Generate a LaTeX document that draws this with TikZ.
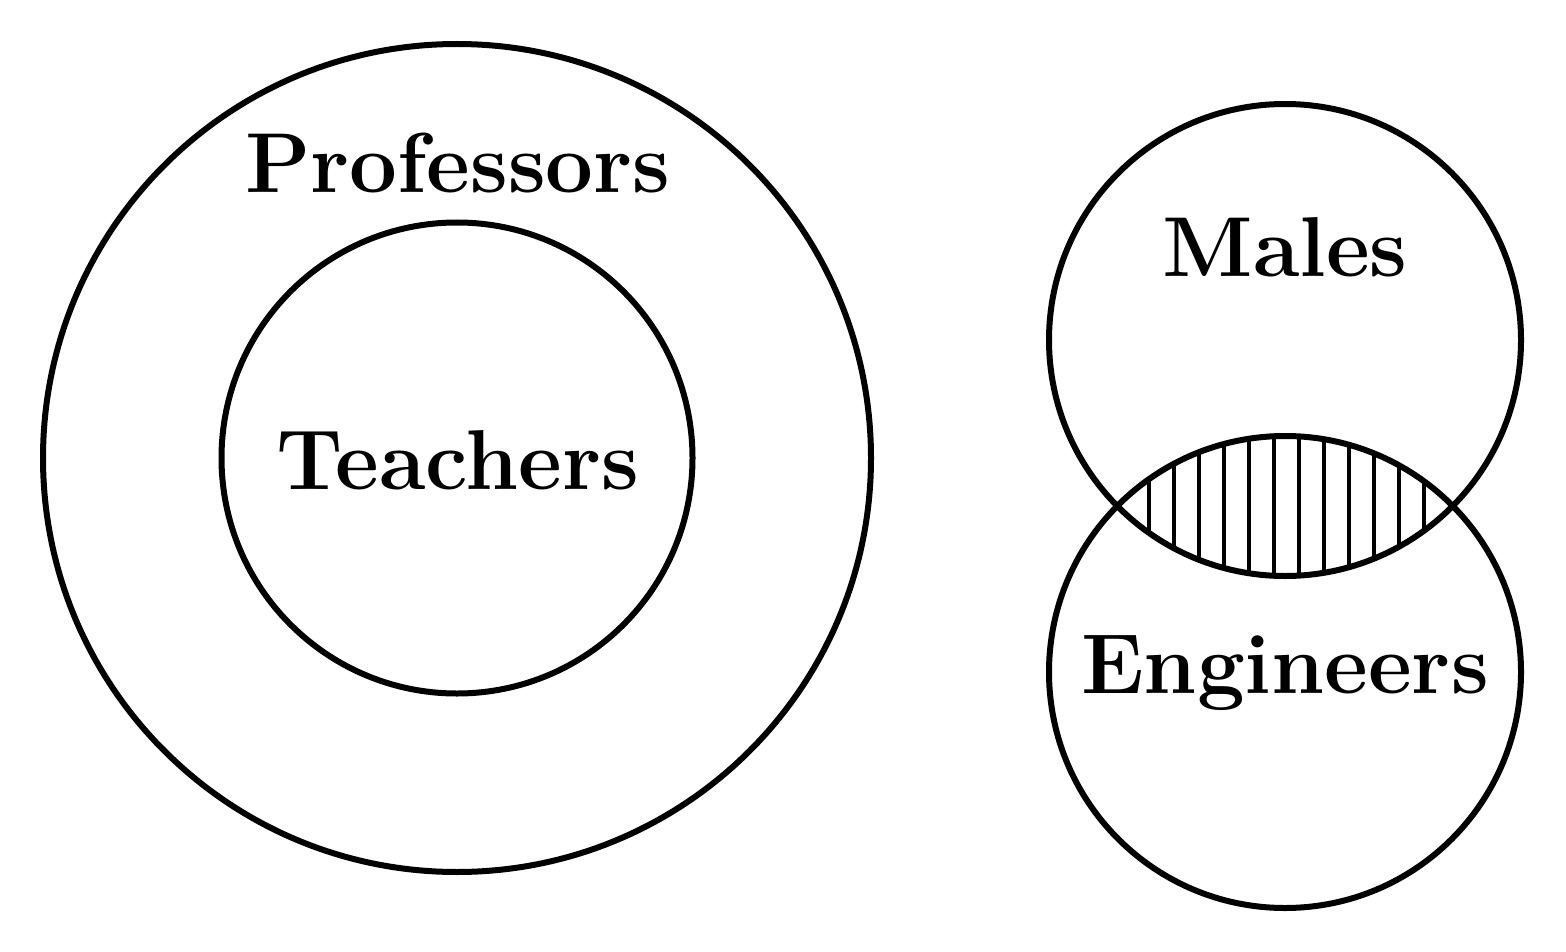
\documentclass[tikz,border=0pt]{standalone}
\begin{document}
\begin{tikzpicture}[x=1pt,y=-1pt,
  ring/.style={draw=black,line width=6pt},
  lbl/.style={anchor=base,inner sep=0pt,font=\fontsize{85}{100}\selectfont\bfseries},
  hatch/.style={line width=3.6pt}]
\useasboundingbox (0,0) rectangle (1566,952);
% hatched intersection
\begin{scope}
  \clip (1285,340) circle[radius=236];
  \clip (1285,672) circle[radius=236];
  \foreach \k in {0,...,11}{
    \draw[hatch] ({1149+25*\k},420) -- ({1149+25*\k},600);
  }
\end{scope}
\node[ring,circle,minimum size=828pt,inner sep=0pt] (prof) at (457,458) {};
\node[ring,circle,minimum size=471pt,inner sep=0pt] (teach) at (457,458) {};
\node[ring,circle,minimum size=472pt,inner sep=0pt] (males) at (1285,340) {};
\node[ring,circle,minimum size=472pt,inner sep=0pt] (eng) at (1285,672) {};
\node[lbl] (tprof) at (458,193) {Professors};
\node[lbl] (tteach) at (458,489) {Teachers};
\node[lbl] (tmales) at (1285,276) {Males};
\node[lbl] (teng) at (1285,693) {Engineers};
\end{tikzpicture}
\end{document}
